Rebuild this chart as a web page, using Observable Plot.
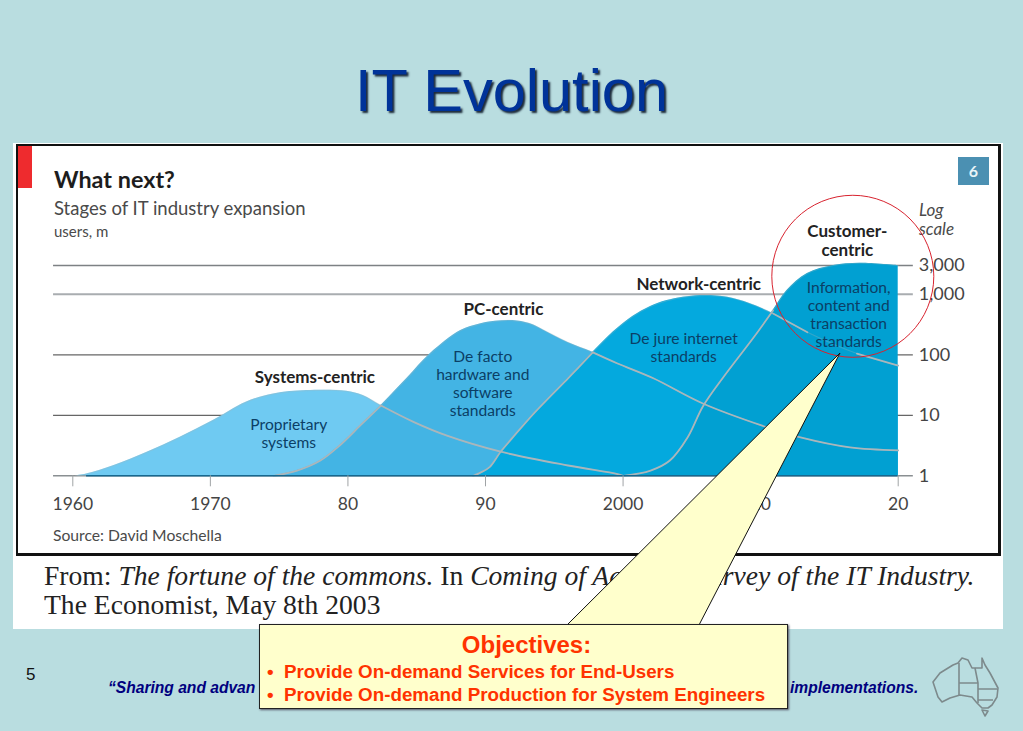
<!DOCTYPE html>
<html><head><meta charset="utf-8">
<script src="https://cdn.jsdelivr.net/npm/d3@7"></script>
<script src="https://cdn.jsdelivr.net/npm/@observablehq/plot@0.6"></script>
<style>
html,body{margin:0;padding:0;width:1023px;height:731px;overflow:hidden;background:#b9dde0;}
.a{position:absolute;white-space:nowrap;}
#title{left:0;width:1023px;text-align:center;top:56px;font:59.5px "Liberation Sans",Arial,sans-serif;color:#003399;text-shadow:2px 2px 2px #1c2a3a;}
#panel{left:13px;top:143px;width:990px;height:486px;background:#fff;}
#frame{left:16px;top:144px;width:980px;height:407px;border:2px solid #111;border-width:2px 3px 3px 2px;}
#red{left:18px;top:146px;width:14px;height:42px;background:#ee2b2e;}
#badge{left:958px;top:157px;width:31px;height:28px;background:#4b90b2;color:#e8f4f8;font:bold 16px Lato,sans-serif;text-align:center;line-height:28px;}
.econ{font-family:Lato,"Noto Sans",sans-serif;color:#4a4a4a;}
#chart{position:absolute;left:0;top:0;}
#chart g[aria-label="notes"] text{letter-spacing:.45px;}
#chart g[aria-label="heads"] text{letter-spacing:.45px;}
#from{left:44px;top:561px;font:27.6px/29px "Liberation Serif",serif;color:#222;}
#five{left:26px;top:665px;font:17px "Liberation Sans",Arial,sans-serif;color:#111;}
.tag{top:679px;font:italic bold 15.6px "Liberation Sans",Arial,sans-serif;color:#00007f;}
#tail{position:absolute;left:0;top:0;}
#box{left:259px;top:624px;width:527px;height:83px;background:#ffffcc;border:1px solid #222;box-shadow:1px 1px 2px #556;font:bold 18.8px "Liberation Sans",Arial,sans-serif;color:#ff3300;white-space:normal;}
#box .h{position:absolute;left:3px;width:100%;text-align:center;top:6px;font-size:24px;}
#box .l{position:absolute;left:7px;white-space:nowrap;}
#box .l span{display:inline-block;width:17px;}
#map{position:absolute;left:0;top:0;}
</style></head><body>
<div class="a" id="title">IT Evolution</div>
<div class="a" id="panel"></div>
<div class="a" id="frame"></div>
<div class="a" id="red"></div>
<div class="a" id="badge">6</div>
<div class="a econ" style="left:54px;top:165px;font-size:23.4px;font-weight:700;color:#1d1d1d">What next?</div>
<div class="a econ" style="left:54px;top:197px;font-size:18.5px">Stages of IT industry expansion</div>
<div class="a econ" style="left:54px;top:222px;font-size:15px">users, m</div>
<div class="a econ" style="left:919px;top:200px;font-size:17px;font-style:italic;line-height:19px">Log<br>scale</div>
<div class="a econ" style="left:53px;top:526px;font-size:15.7px">Source: David Moschella</div>
<div class="a" id="from">From: <i>The fortune of the commons.</i> In <i>Coming of Age: &nbsp;A &nbsp;&nbsp;Survey of the IT Industry.</i><br>The Economist, May 8th 2003</div>
<div class="a" id="five">5</div>
<div class="a tag" style="left:108px">“Sharing and advan</div>
<div class="a tag" style="left:790px">implementations.</div>
<div id="host"></div>
<svg id="tail" width="1023" height="731"><polygon points="840,353 567,625 699,625" fill="#ffffcc" stroke="#111" stroke-width="1"/></svg>
<div class="a" id="box">
  <div class="h">Objectives:</div>
  <div class="l" style="top:36px"><span>•</span>Provide On-demand Services for End-Users</div>
  <div class="l" style="top:59px"><span>•</span>Provide On-demand Production for System Engineers</div>
</div>
<svg id="map" width="1023" height="731"><g fill="none" stroke="#7d8a8c" stroke-width="1.6" stroke-linejoin="round">
<path d="M933,682 L940,673 L953,665 L958,663 L962,658 L968,660 L972,668 L978,668 L982,668 L982,658 L985,665 L990,673 L998,688 L997,697 L992,705 L988,708 L982,708 L977,703 L972,697 L960,695 L950,698 L942,702 L938,697 Z"/>
<path d="M982,710 L988,711 L985,716 Z"/>
<path d="M959,663 L959,695 M959,683 L978,683 M975,668 L978,683 L978,703 M978,689 L997,689 M978,700 L993,700"/>
</g></svg>
<script>
const years0 = [1960.2,1961,1963,1965.4,1967.8,1970.2,1972.6,1974.6,1977,1979.9,1981.1,1982.4,1984.8,1987.2,1991.1,1996,1999.6,2000];
const systems = [1,1.07,1.48,2.45,4.35,8.2,16.5,22.6,25.7,25,21.2,14.5,7.7,4.6,2.5,1.48,1.07,1];
const years1 = [1974.6,1976.3,1978,1979.4,1980.9,1982.4,1984.3,1986,1988.2,1989.6,1990.7,1992,1993.2,1994.2,1996,1997.8,1999.6,2002.2,2005.8,2010.5,2012.9,2016.5,2020];
const pc = [1,1.22,1.79,3.17,6.8,14.5,41,105,252,323,358,369,329,258,160,110,72,41,15.7,6.3,4.3,2.94,2.63];
const years2 = [1989.1,1989.6,1990.3,1991.1,1992,1993.5,1996,1996.7,1997.8,1999.3,2000.7,2002,2003.2,2005.6,2007.6,2009.2,2010.9,2013.4,2017,2020];
const network = [1,1.12,1.39,2.5,4.35,10.7,41,60,110,240,430,630,790,955,895,705,481,236,105,66.5];
const years3 = [2000,2002,2003.4,2004.7,2005.8,2007.3,2009.5,2010.9,2011.9,2013.4,2015.3,2017.2,2020];
const customer = [1,1.22,1.79,4.35,14,43,195,540,1150,2210,3000,3270,3000];

const stageColors = ["#6fcaf2","#43b4e4","#04a9de","#01a0d2"];
const xTicks = [1960,1970,1980,1990,2000,2010,2020];
const xLabels = ["1960","1970","80","90","2000","10","20"];
const yTicks = [1,10,100,1000,3000];
const gridColors = ["#8a8f92","#666666","#666666","#a9adb0","#7d8184"];
const gridWidths = [1.5,1.2,1.2,2,1.5];

const heads = [
 {t:"Systems-centric",x:1977.6,v:43.8},
 {t:"PC-centric",x:1991.3,v:582},
 {t:"Network-centric",x:2005.5,v:1510},
 {t:"Customer-\ncentric",x:2016.3,v:7900}
];
const notes = [
 {t:"Proprietary\nsystems",x:1975.7,v:5},
 {t:"De facto\nhardware and\nsoftware\nstandards",x:1989.8,v:33.5},
 {t:"De jure internet\nstandards",x:2004.4,v:135},
 {t:"Information,\ncontent and\ntransaction\nstandards",x:2016.4,v:464}
];
const highlight = [{x:2016.7,v:1990}];

const table = (xs,vs)=>xs.map((x,i)=>({x,v:vs[i]}));
const series = [table(years0,systems),table(years1,pc),table(years2,network),table(years3,customer)];
const gray = "#aab6bb";
const curve = "catmull-rom";
const edge = (d,opts={})=>Plot.line(d,{x:"x",y:"v",curve,stroke:gray,strokeWidth:1.8,...opts});

const chart = Plot.plot({
  width:1023,height:731,
  marginLeft:72.3,marginRight:125.3,marginTop:265,marginBottom:255.7,
  x:{type:"linear",domain:[1960,2020]},
  y:{type:"log",domain:[1,3000],axis:null},
  style:{background:"transparent",fontFamily:"Lato,'Noto Sans',sans-serif",overflow:"visible"},
  marks:[
    Plot.ruleY(yTicks,{y:d=>d,x1:()=>1958.6,x2:()=>2021.1,stroke:d=>gridColors[yTicks.indexOf(d)],strokeWidth:d=>gridWidths[yTicks.indexOf(d)]}),
    ...series.map((d,i)=>Plot.areaY(d,{x:"x",y1:()=>1,y2:"v",curve,fill:stageColors[i]})),
    ...series.map(d=>edge(d,{strokeOpacity:0.3,strokeWidth:1.2})),
    edge(series[0].filter(d=>d.x>=1982.4)),
    edge(series[1].filter(d=>d.x<=1982.4)),
    edge(series[1].filter(d=>d.x>=1997.8)),
    edge(series[2].filter(d=>d.x<=1997.8)),
    edge(series[2].filter(d=>d.x>=2010.9&&d.x<=2013.4)),
    edge(series[2].filter(d=>d.x>=2017)),
    edge(series[3].filter(d=>d.x<=2010.9)),
    Plot.ruleY([1],{x1:()=>1961,x2:()=>2020,stroke:"#17688f",strokeWidth:1.4}),
    Plot.axisX(xTicks,{anchor:"bottom",tickSize:11,tickPadding:11,stroke:"#a0a4a6",fill:"#444",fontSize:17.5,label:null,tickFormat:d=>xLabels[xTicks.indexOf(d)]}),
    Plot.text(yTicks,{x:()=>2021.5,y:d=>d,text:d3.format(","),textAnchor:"start",fill:"#444",fontSize:18}),
    Plot.text(heads,{x:"x",y:"v",text:"t",fontSize:17,fontWeight:700,fill:"#222",lineHeight:1.14,ariaLabel:"heads"}),
    Plot.text(notes,{x:"x",y:"v",text:"t",fontSize:15.6,fill:"#0b3f66",lineHeight:1.15,ariaLabel:"notes"}),
    Plot.dot(highlight,{x:"x",y:"v",r:81,stroke:"#d8232f",strokeWidth:1,fill:"none"})
  ]
});
chart.id="chart";
document.getElementById("host").appendChild(chart);
</script>
</body></html>
